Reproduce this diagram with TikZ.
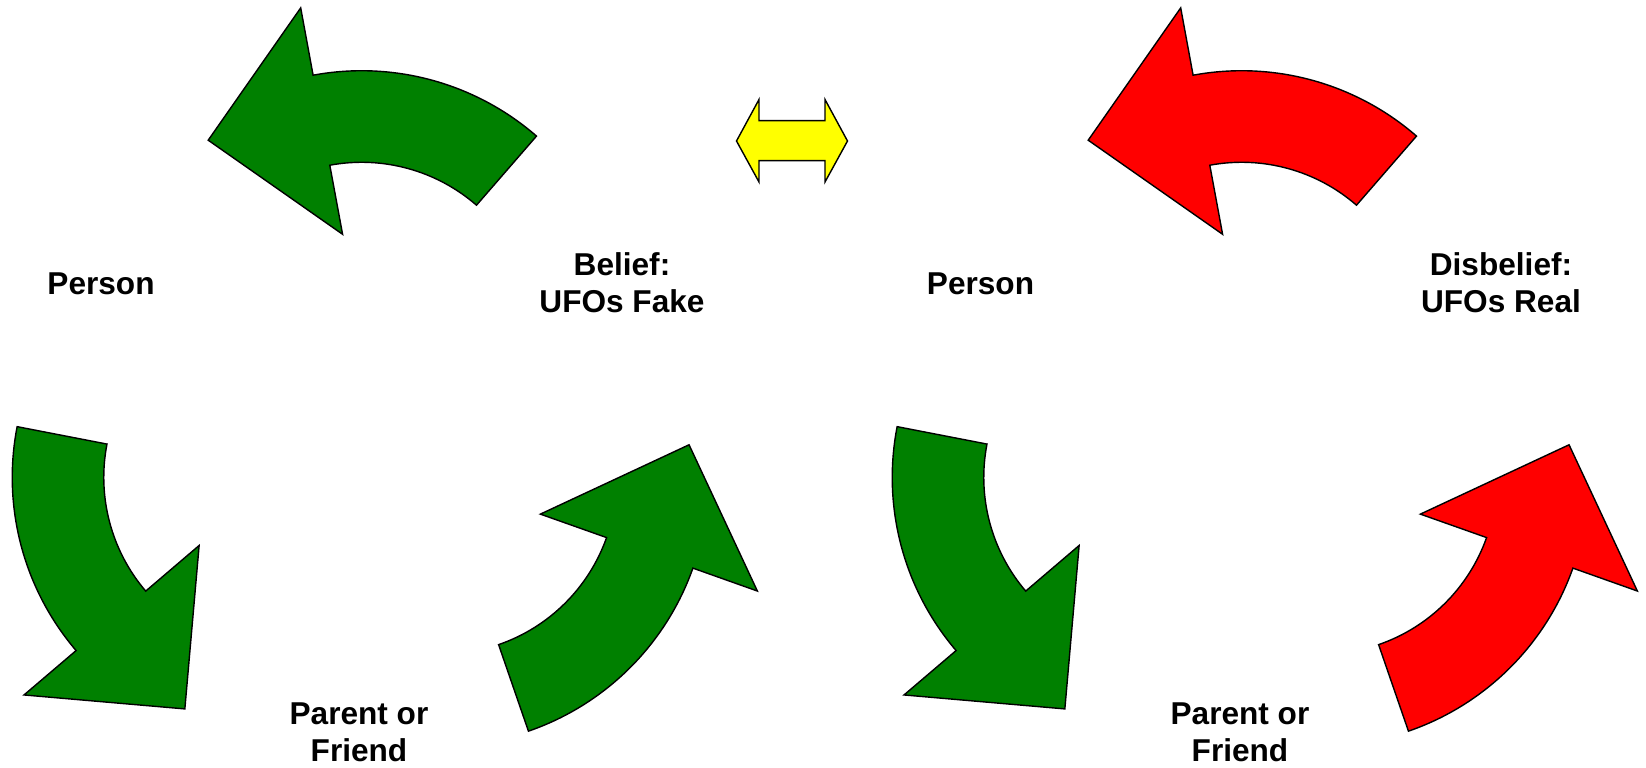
\documentclass[tikz,border=0pt]{standalone}
\usepackage{fontspec}
\setmainfont{Liberation Sans}
\definecolor{arrowgreen}{RGB}{0,128,0}
\definecolor{arrowred}{RGB}{255,0,0}
\definecolor{arrowyellow}{RGB}{255,255,0}
\tikzset{
  cyclearrow/.pic={
    \path[pic actions] (-152.5,291.1) -- (-60,423.4) -- (-47.6,356.1)
      arc[start angle=100.5,end angle=49,radius=133.25pt] -- (115.8,226.1)
      arc[start angle=49,end angle=100.5,radius=87.5pt] -- (-18.1,197) -- cycle;
  },
  greenarrow/.style={fill=arrowgreen, draw=black, line width=0.7pt},
  redarrow/.style={fill=arrowred, draw=black, line width=0.7pt},
  yellowarrow/.style={fill=arrowyellow, draw=black, line width=0.7pt},
  lbl/.style={font=\fontsize{15.8}{18.5}\selectfont\bfseries, align=center, inner sep=0pt}
}
\begin{document}
\begin{tikzpicture}[x=0.5pt,y=0.5pt]
\useasboundingbox (0,0) rectangle (1646,767);
% left cycle
\coordinate (OL) at (360.7,335.7);
\pic[greenarrow] (gA) at (OL) {cyclearrow};
\pic[greenarrow, rotate=120] (gB) at (OL) {cyclearrow};
\pic[greenarrow, rotate=240] (gC) at (OL) {cyclearrow};
\node[lbl] (personL) at (101,483.2) {Person};
\node[lbl] (beliefL) at (622,483.8) {Belief:\\UFOs Fake};
\node[lbl] (parentL) at (359,34.8) {Parent or\\Friend};
% right cycle
\coordinate (OR) at (1240.7,335.7);
\pic[redarrow] (rA) at (OR) {cyclearrow};
\pic[greenarrow, rotate=120] (rB) at (OR) {cyclearrow};
\pic[redarrow, rotate=240] (rC) at (OR) {cyclearrow};
\node[lbl] (personR) at (980.5,483.2) {Person};
\node[lbl] (beliefR) at (1501,483.8) {Disbelief:\\UFOs Real};
\node[lbl] (parentR) at (1240,34.8) {Parent or\\Friend};
% double arrow
\path[yellowarrow] (736.5,626) -- (759,667.5) -- (759,646.3) -- (825,646.3) -- (825,667.5)
  -- (847.5,626) -- (825,585) -- (825,606.3) -- (759,606.3) -- (759,585) -- cycle;
\end{tikzpicture}
\end{document}
